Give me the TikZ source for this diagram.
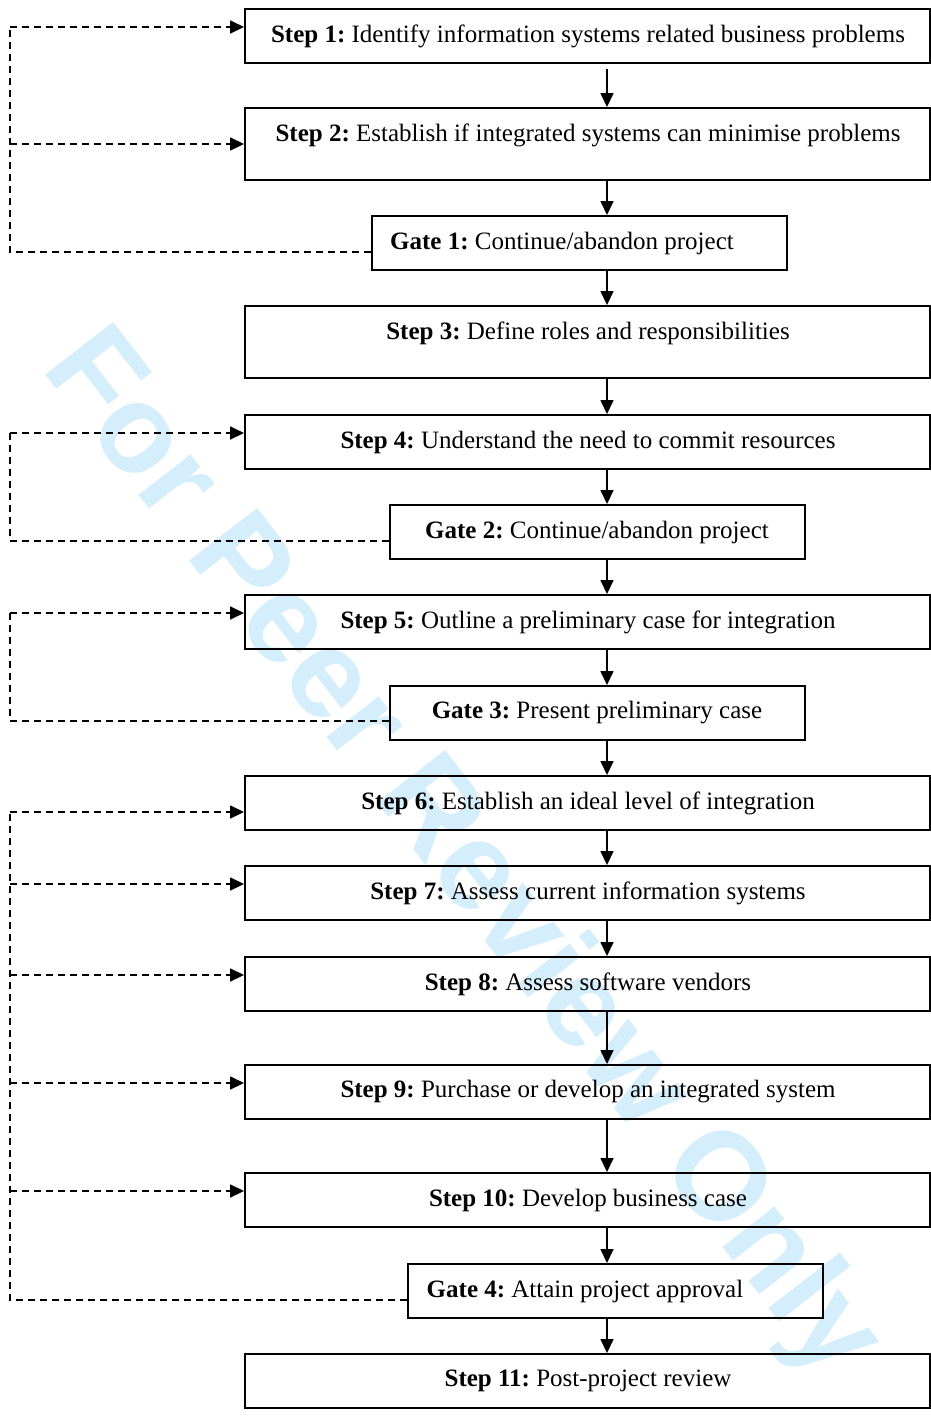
\documentclass[tikz,border=0pt]{standalone}
\usepackage{fontspec}
\setmainfont{Liberation Serif}
\newfontfamily\wmfont{Liberation Sans}
\usetikzlibrary{arrows.meta}
\definecolor{wmblue}{RGB}{212,238,251}
\frenchspacing
\begin{document}
\begin{tikzpicture}[x=1pt,y=-1pt,
  box/.style={draw=black,line width=1.9pt,rectangle,inner sep=0pt,minimum height=54pt},
  stepbox/.style={box,minimum width=685pt},
  gatebox/.style={box,minimum width=415pt},
  tallbox/.style={stepbox,minimum height=72pt},
  lbl/.style={inner sep=0pt,font=\fontsize{25}{28}\selectfont},
  arr/.style={line width=1.5pt,-{Triangle[length=14pt,width=13pt]}},
  fb/.style={line width=1.6pt,dash pattern=on 7pt off 5pt},
  fbarr/.style={fb,-{Triangle[length=14pt,width=13pt]}}]
\useasboundingbox (0,0) rectangle (931,1416);
\fill[white] (0,0) rectangle (931,1416);
% watermark
\node[inner sep=0pt,anchor=base west,rotate=-52.2,text=wmblue,
  font=\wmfont\bfseries\fontsize{125}{125}\selectfont] (wm) at (40,368) {For Peer Review Only};
% boxes
\node[stepbox] (s1) at (587.5,36) {};
\node[tallbox] (s2) at (587.5,144) {};
\node[gatebox] (g1) at (579.5,243) {};
\node[tallbox] (s3) at (587.5,342) {};
\node[stepbox] (s4) at (587.5,442) {};
\node[gatebox] (g2) at (597.5,532) {};
\node[stepbox] (s5) at (587.5,622) {};
\node[gatebox] (g3) at (597.5,713) {};
\node[stepbox] (s6) at (587.5,803) {};
\node[stepbox] (s7) at (587.5,893) {};
\node[stepbox] (s8) at (587.5,984) {};
\node[stepbox] (s9) at (587.5,1092) {};
\node[stepbox] (s10) at (587.5,1200) {};
\node[gatebox] (g4) at (615.5,1291) {};
\node[stepbox] (s11) at (587.5,1381) {};
% labels
\node[lbl] (t1) at (588,36) {\textbf{Step 1:} Identify information systems related business problems};
\node[lbl] (t2) at (588,135) {\textbf{Step 2:} Establish if integrated systems can minimise problems};
\node[lbl] (tg1) at (562,243) {\textbf{Gate 1:} Continue/abandon project};
\node[lbl] (t3) at (588,333) {\textbf{Step 3:} Define roles and responsibilities};
\node[lbl] (t4) at (588,442) {\textbf{Step 4:} Understand the need to commit resources};
\node[lbl] (tg2) at (597,532) {\textbf{Gate 2:} Continue/abandon project};
\node[lbl] (t5) at (588,622) {\textbf{Step 5:} Outline a preliminary case for integration};
\node[lbl] (tg3) at (597,713) {\textbf{Gate 3:} Present preliminary case};
\node[lbl] (t6) at (588,803) {\textbf{Step 6:} Establish an ideal level of integration};
\node[lbl] (t7) at (588,893) {\textbf{Step 7:} Assess current information systems};
\node[lbl] (t8) at (588,984) {\textbf{Step 8:} Assess software vendors};
\node[lbl] (t9) at (588,1092) {\textbf{Step 9:} Purchase or develop an integrated system};
\node[lbl] (t10) at (588,1200) {\textbf{Step 10:} Develop business case};
\node[lbl] (tg4) at (585,1291) {\textbf{Gate 4:} Attain project approval};
\node[lbl] (t11) at (588,1381) {\textbf{Step 11:} Post-project review};
% axis coordinates
\coordinate (ax) at (607,0);
\coordinate (lx) at (10,0);
% main flow
\draw[arr] ([yshift=-5pt]s1.south -| ax) -- (s2.north -| ax);
\foreach \a/\b in {s2/g1,g1/s3,s3/s4,s4/g2,g2/s5,s5/g3,g3/s6,s6/s7,s7/s8,s8/s9,s9/s10,s10/g4,g4/s11}
  \draw[arr] (\a.south -| ax) -- (\b.north -| ax);
% feedback group 1
\draw[fb] ([yshift=-9pt]g1.west) -- ([yshift=-9pt]g1.west -| lx) -- ([yshift=9pt]s1.west -| lx);
\draw[fbarr] ([yshift=9pt]s1.west -| lx) -- ([yshift=9pt]s1.west);
\draw[fbarr] (s2.west -| lx) -- (s2.west);
% group 2
\draw[fb] ([yshift=-9pt]g2.west) -- ([yshift=-9pt]g2.west -| lx) -- ([yshift=9pt]s4.west -| lx);
\draw[fbarr] ([yshift=9pt]s4.west -| lx) -- ([yshift=9pt]s4.west);
% group 3
\draw[fb] ([yshift=-8pt]g3.west) -- ([yshift=-8pt]g3.west -| lx) -- ([yshift=9pt]s5.west -| lx);
\draw[fbarr] ([yshift=9pt]s5.west -| lx) -- ([yshift=9pt]s5.west);
% group 4
\draw[fb] ([yshift=-9pt]g4.west) -- ([yshift=-9pt]g4.west -| lx) -- ([yshift=-9pt]s6.west -| lx);
\draw[fbarr] ([yshift=-9pt]s6.west -| lx) -- ([yshift=-9pt]s6.west);
\draw[fbarr] ([yshift=9pt]s7.west -| lx) -- ([yshift=9pt]s7.west);
\draw[fbarr] ([yshift=9pt]s8.west -| lx) -- ([yshift=9pt]s8.west);
\draw[fbarr] ([yshift=9pt]s9.west -| lx) -- ([yshift=9pt]s9.west);
\draw[fbarr] ([yshift=9pt]s10.west -| lx) -- ([yshift=9pt]s10.west);
\end{tikzpicture}
\end{document}
